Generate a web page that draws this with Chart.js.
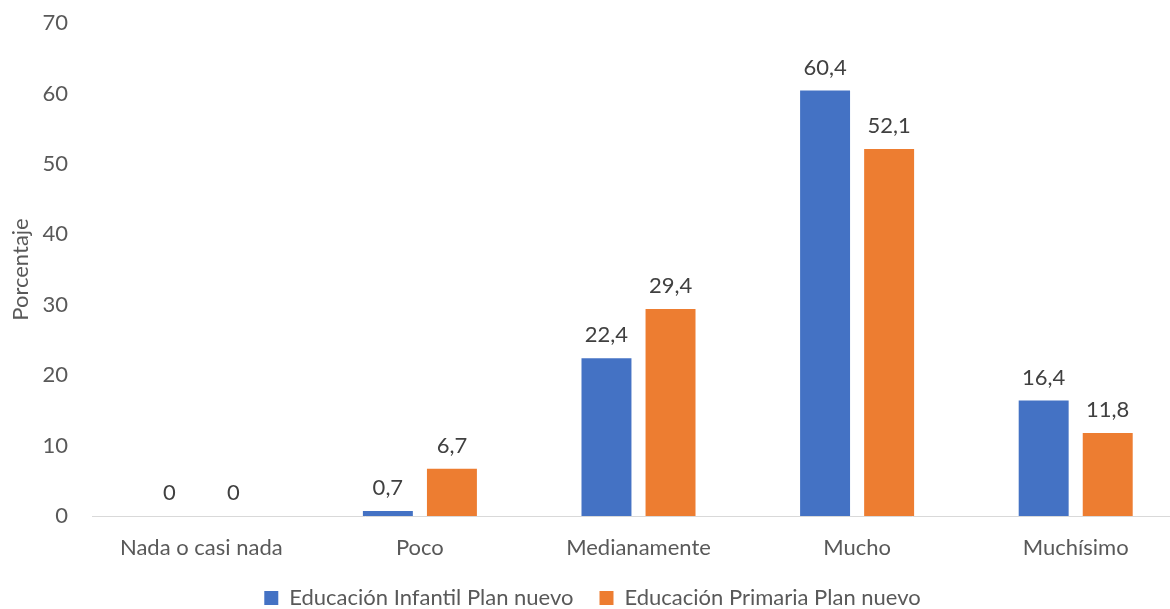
<!DOCTYPE html>
<html lang="es">
<head>
<meta charset="utf-8">
<title>Porcentaje por categoría</title>
<script src="https://cdn.jsdelivr.net/npm/chart.js@4/dist/chart.umd.min.js"></script>
<style>
  html, body { margin: 0; padding: 0; background: #fff; overflow: hidden; }
  #chartBox { width: 1194px; height: 609px; }
</style>
</head>
<body>
<div id="chartBox"><canvas id="barChart" width="1194" height="609"></canvas></div>
<script>
const categories = ["Nada o casi nada", "Poco", "Medianamente", "Mucho", "Muchísimo"];
const infantilPlanNuevo = [0, 0.7, 22.4, 60.4, 16.4];
const primariaPlanNuevo = [0, 6.7, 29.4, 52.1, 11.8];
const seriesNames = ["Educación Infantil Plan nuevo", "Educación Primaria Plan nuevo"];
const yTicks = [0, 10, 20, 30, 40, 50, 60, 70];

const FONT = "Lato, 'Open Sans', sans-serif";
const FONT_SIZE = 22;
const axisGrey = "#595959";

// writes the value above each bar, with a decimal comma
const valueLabels = {
    id: "valueLabels",
    afterDatasetsDraw(chart) {
        const ctx = chart.ctx;
        ctx.save();
        ctx.font = FONT_SIZE + "px " + FONT;
        ctx.fillStyle = "#404040";
        ctx.textAlign = "center";
        ctx.textBaseline = "bottom";
        chart.data.datasets.forEach(function (ds, i) {
            chart.getDatasetMeta(i).data.forEach(function (bar, j) {
                const txt = String(ds.data[j]).replace(".", ",");
                ctx.fillText(txt, bar.x, bar.y - 12);
            });
        });
        ctx.restore();
    }
};

const ctx = document.getElementById("barChart").getContext("2d");

window.myBarChart = new Chart(ctx, {
    type: "bar",
    data: {
        labels: categories,
        datasets: [
            {
                label: seriesNames[0],
                data: infantilPlanNuevo,
                backgroundColor: "#4472C4",
                borderWidth: 0,
            },
            {
                label: seriesNames[1],
                data: primariaPlanNuevo,
                backgroundColor: "#ED7D31",
                borderWidth: 0,
            },
        ],
    },
    options: {
        responsive: false,
        animation: false,
        categoryPercentage: 0.586,
        barPercentage: 0.78,
        layout: {
            padding: { top: 0, left: 0, right: 9, bottom: 0 },
        },
        plugins: {
            tooltip: { enabled: false },
            legend: {
                position: "bottom",
                maxHeight: 48,
                labels: {
                    color: axisGrey,
                    font: { family: FONT, size: FONT_SIZE },
                    boxWidth: 14,
                    boxHeight: 14,
                    padding: 26,
                },
            },
        },
        scales: {
            x: {
                afterFit(scale) {
                    scale.height = 45;
                },
                grid: { display: false, drawTicks: false },
                border: { display: true, color: "#d9d9d9", width: 1 },
                ticks: {
                    color: axisGrey,
                    font: { family: FONT, size: FONT_SIZE, lineHeight: 1 },
                    padding: 21,
                },
            },
            y: {
                min: 0,
                max: 70,
                afterBuildTicks(scale) {
                    scale.ticks = yTicks.map(v => ({ value: v }));
                },
                afterFit(scale) {
                    scale.width = 92;
                    scale.paddingTop = 23;
                    scale.paddingBottom = 12;
                },
                grid: { display: false, drawTicks: false },
                border: { display: false },
                ticks: {
                    color: axisGrey,
                    font: { family: FONT, size: FONT_SIZE },
                    padding: 24,
                },
                title: {
                    display: true,
                    text: "Porcentaje",
                    color: axisGrey,
                    font: { family: FONT, size: FONT_SIZE },
                    padding: 8,
                },
            },
        },
    },
    plugins: [valueLabels],
});
</script>
</body>
</html>
